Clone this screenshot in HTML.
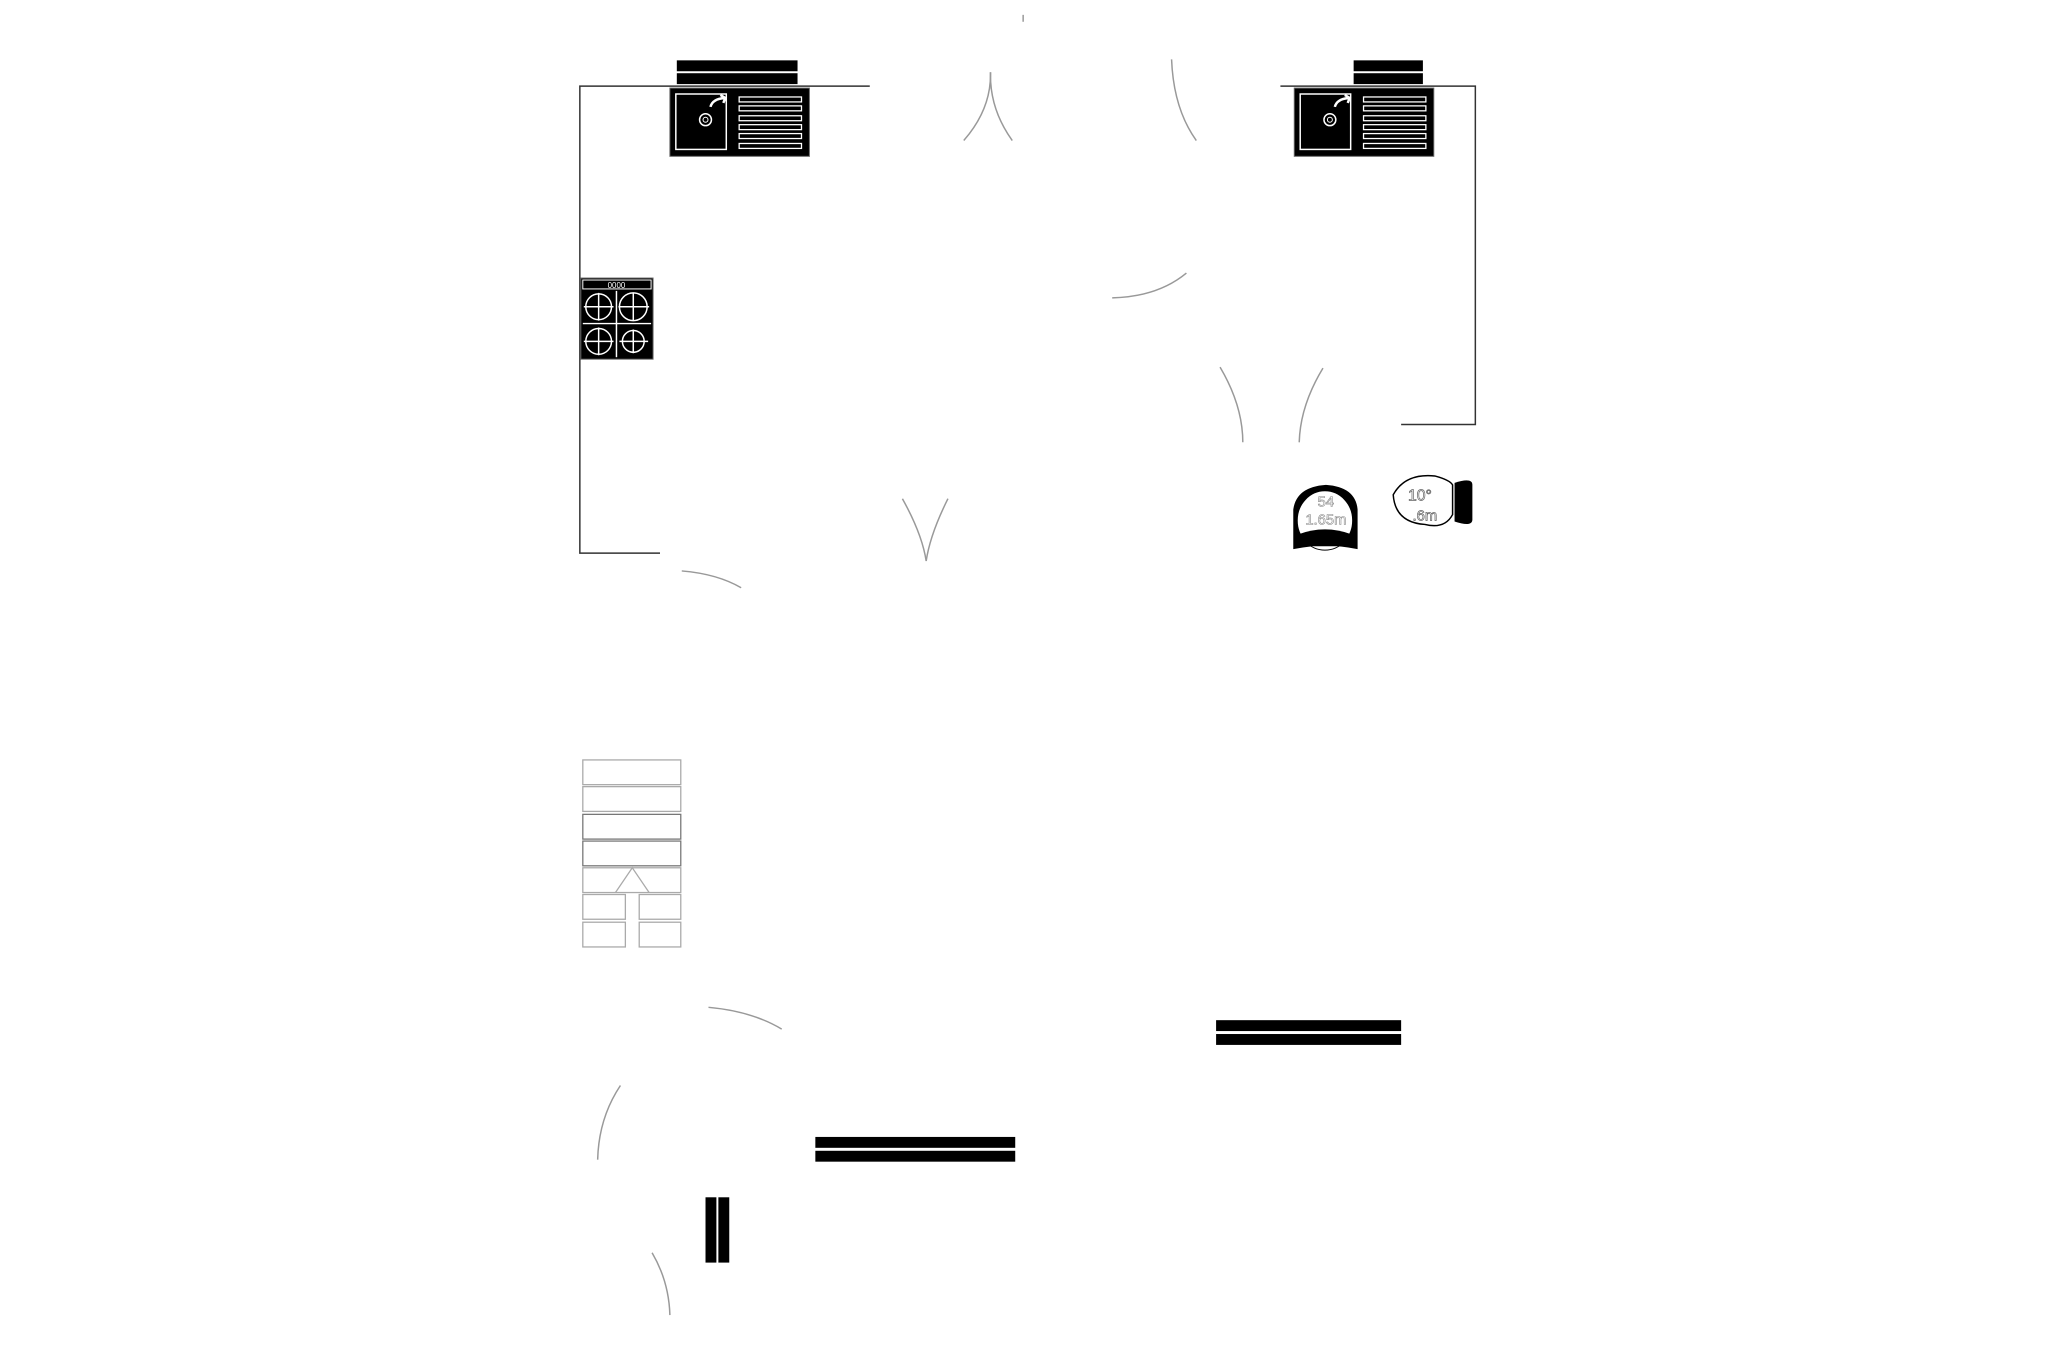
<!DOCTYPE html>
<html><head><meta charset="utf-8"><style>html,body{margin:0;padding:0;background:#fff;width:2057px;height:1371px;overflow:hidden}svg{display:block}</style></head><body>
<svg width="2057" height="1371" viewBox="0 0 2057 1371" xmlns="http://www.w3.org/2000/svg">
<g transform="scale(0.9895)">
<g stroke="#333" stroke-width="1.5" fill="none">
<path d="M879 87 H586 V559 H667"/>
<path d="M1294 87 H1491 V429 H1416"/>
</g>
<g fill="#000">
<rect x="684" y="61" width="122" height="11"/><rect x="684" y="74" width="122" height="11"/>
<rect x="1368" y="61" width="70" height="11"/><rect x="1368" y="74" width="70" height="11"/>
<rect x="1229" y="1031" width="187" height="11"/><rect x="1229" y="1045" width="187" height="11"/>
<rect x="824" y="1149" width="202" height="11"/><rect x="824" y="1163" width="202" height="11"/>
<rect x="713" y="1210" width="11" height="66"/><rect x="726" y="1210" width="11" height="66"/>
</g>
<g id="sink">
<rect x="677" y="89" width="141" height="69" fill="#000" stroke="#666"/>
<rect x="683" y="95" width="51" height="56" fill="none" stroke="#fff" stroke-width="1.5"/>
<circle cx="713" cy="121" r="6" fill="none" stroke="#fff" stroke-width="1.5"/><circle cx="713" cy="121" r="2.5" fill="none" stroke="#fff"/>
<path d="M718 108 Q720 100 732 99 M728 96 L733 99 L731 104" stroke="#fff" stroke-width="2.5" fill="none"/>
<g fill="none" stroke="#fff" stroke-width="1.3">
<rect x="747" y="98" width="63" height="5"/><rect x="747" y="107" width="63" height="5"/><rect x="747" y="117" width="63" height="5"/><rect x="747" y="126" width="63" height="5"/><rect x="747" y="135" width="63" height="5"/><rect x="747" y="145" width="63" height="5"/>
</g>
</g>
<use href="#sink" transform="translate(631 0)"/>
<g>
<rect x="587" y="281" width="73" height="82" fill="#000" stroke="#666"/>
<rect x="589" y="283" width="69" height="9" fill="#000" stroke="#fff" stroke-width="1"/>
<text x="623" y="291" font-family="Liberation Sans" font-size="8" fill="#fff" text-anchor="middle">0000</text>
<g stroke="#fff" stroke-width="1.5" fill="none">
<line x1="623" y1="294" x2="623" y2="361"/><line x1="589" y1="327" x2="658" y2="327"/>
<circle cx="605" cy="310" r="13"/><circle cx="640" cy="310" r="14"/><circle cx="605" cy="345" r="13"/><circle cx="640" cy="345" r="11"/>
<path d="M590 310H620M605 296V324M625 310H656M640 296V324M590 345H620M605 331V359M626 345H655M640 333V357"/>
</g>
</g>
<g stroke="#999" stroke-width="1.5" fill="none">
<path d="M1001 73 Q1002 110 974 142"/><path d="M1001 73 Q1000 110 1023 142"/>
<path d="M1184 60 Q1186 110 1209 142"/>
<path d="M1124 301 Q1170 300 1199 276"/>
<path d="M1233 371 Q1256 410 1256 447"/><path d="M1337 372 Q1314 410 1313 447"/>
<path d="M912 504 Q932 540 936 567"/><path d="M958 504 Q940 540 936 567"/>
<path d="M689 577 Q725 580 749 594"/>
<path d="M716 1018 Q760 1022 790 1040"/>
<path d="M627 1097 Q605 1130 604 1172"/>
<path d="M659 1266 Q676 1295 677 1329"/>
<line x1="1034" y1="15" x2="1034" y2="22"/>
</g>
<g fill="none" stroke="#aaa" stroke-width="1.3">
<rect x="589" y="768" width="99" height="25"/><rect x="589" y="795" width="99" height="25"/>
<rect x="589" y="823" width="99" height="25" stroke="#777"/><rect x="589" y="850" width="99" height="25" stroke="#777"/>
<rect x="589" y="877" width="99" height="25"/>
<rect x="589" y="904" width="43" height="25"/><rect x="646" y="904" width="42" height="25"/>
<rect x="589" y="932" width="43" height="25"/><rect x="646" y="932" width="42" height="25"/>
<path d="M622 902 L639 877 L656 902"/>
</g>
<g>
<path d="M1307 555 V515 Q1310 492 1340 490 Q1370 492 1372 515 V555 Q1340 548 1307 555Z" fill="#000"/>
<ellipse cx="1339" cy="526" rx="28" ry="30" fill="#fff" stroke="#000" stroke-width="1"/>
<path d="M1312 540 Q1339 530 1366 540 L1360 552 H1318Z" fill="#000"/>
<text x="1340" y="512" font-family="Liberation Sans" font-size="15" fill="#fff" stroke="#888" stroke-width="0.6" text-anchor="middle">54</text>
<text x="1340" y="530" font-family="Liberation Sans" font-size="15" fill="#fff" stroke="#888" stroke-width="0.6" text-anchor="middle">1.65m</text>
<path d="M1470 488 Q1488 482 1488 490 V525 Q1488 533 1470 527 Z" fill="#000"/>
<path d="M1408 500 Q1420 478 1450 481 Q1465 485 1468 490 V520 Q1460 535 1440 530 Q1410 528 1408 500Z" fill="#fff" stroke="#000" stroke-width="1.5"/>
<text x="1435" y="506" font-family="Liberation Sans" font-size="16" fill="#fff" stroke="#666" stroke-width="0.7" text-anchor="middle">10°</text>
<text x="1440" y="526" font-family="Liberation Sans" font-size="15" fill="#fff" stroke="#666" stroke-width="0.7" text-anchor="middle">.6m</text>
</g>
</g>
</svg>
</body></html>
